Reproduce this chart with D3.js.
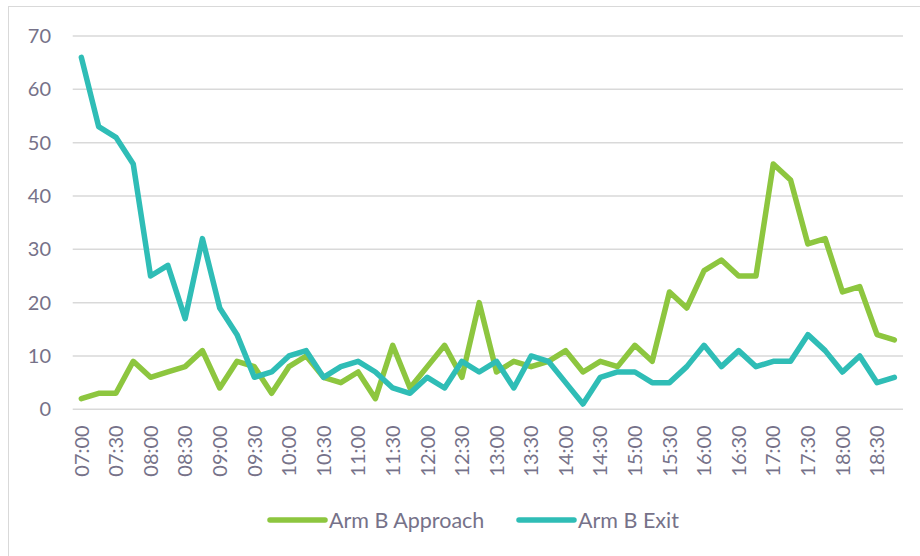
<!DOCTYPE html>
<html>
<head>
<meta charset="utf-8">
<script src="https://cdn.jsdelivr.net/npm/d3@7"></script>
<style>
  html, body { margin: 0; padding: 0; background: #fff; }
  svg { display: block; }
  text { font-family: Lato, 'Open Sans', sans-serif; fill: #767289; }
</style>
</head>
<body>
<svg id="chart"></svg>
<script>
const times = [
  '07:00', '07:15', '07:30', '07:45', '08:00', '08:15', '08:30', '08:45',
  '09:00', '09:15', '09:30', '09:45', '10:00', '10:15', '10:30', '10:45',
  '11:00', '11:15', '11:30', '11:45', '12:00', '12:15', '12:30', '12:45',
  '13:00', '13:15', '13:30', '13:45', '14:00', '14:15', '14:30', '14:45',
  '15:00', '15:15', '15:30', '15:45', '16:00', '16:15', '16:30', '16:45',
  '17:00', '17:15', '17:30', '17:45', '18:00', '18:15', '18:30', '18:45'
]
const approach = [
  2, 3, 3, 9, 6, 7, 8, 11, 4, 9, 8, 3, 8, 10, 6, 5,
  7, 2, 12, 4, 8, 12, 6, 20, 7, 9, 8, 9, 11, 7, 9, 8,
  12, 9, 22, 19, 26, 28, 25, 25, 46, 43, 31, 32, 22, 23, 14, 13
]
const exit = [
  66, 53, 51, 46, 25, 27, 17, 32, 19, 14, 6, 7, 10, 11, 6, 8,
  9, 7, 4, 3, 6, 4, 9, 7, 9, 4, 10, 9, 5, 1, 6, 7,
  7, 5, 5, 8, 12, 8, 11, 8, 9, 9, 14, 11, 7, 10, 5, 6
]
const yTicks = [0, 10, 20, 30, 40, 50, 60, 70]
const seriesNames = ['Arm B Approach', 'Arm B Exit']
const colors = ['#8dc63f', '#2fbdb6']

const width = 920
const height = 556
const plot = { left: 72.7, right: 903, top: 36, bottom: 409.3 }

const svg = d3.select('#chart')
    .attr('width', width)
    .attr('height', height)

// chart area border (only top/left visible in the crop)
svg.append('rect')
    .attr('x', 8.5)
    .attr('y', 6.5)
    .attr('width', 1000)
    .attr('height', 1000)
    .attr('fill', 'none')
    .attr('stroke', '#d9d9d9')
    .attr('stroke-width', 1)

const xScale = d3.scaleBand()
    .domain(times)
    .range([plot.left, plot.right])
    .padding(0)

const yScale = d3.scaleLinear()
    .domain([0, 70])
    .range([plot.bottom, plot.top])

// gridlines
svg.append('g')
    .selectAll('line')
    .data(yTicks)
    .enter()
    .append('line')
    .attr('x1', plot.left)
    .attr('x2', plot.right)
    .attr('y1', d => yScale(d))
    .attr('y2', d => yScale(d))
    .attr('stroke', '#d9d9d9')
    .attr('stroke-width', 1.5)

// y axis labels
const yAxis = svg.append('g')
    .attr('transform', 'translate(' + 51 + ',0)')
    .call(d3.axisLeft(yScale).tickValues(yTicks).tickSize(0).tickPadding(0))
yAxis.select('.domain').remove()
yAxis.selectAll('text')
    .style('font-family', 'Lato, sans-serif')
    .style('font-size', '20px')
    .attr('fill', '#767289')

// x axis labels, every other slot
const xAxis = svg.append('g')
    .attr('transform', 'translate(0,' + plot.bottom + ')')
    .call(d3.axisBottom(xScale)
        .tickValues(times.filter((d, i) => i % 2 === 0))
        .tickSize(0))
xAxis.select('.domain').remove()
xAxis.selectAll('text')
    .style('font-family', 'Lato, sans-serif')
    .style('font-size', '20px')
    .attr('fill', '#767289')
    .attr('transform', 'rotate(-90)')
    .attr('text-anchor', 'end')
    .attr('x', -16)
    .attr('y', 0)
    .attr('dy', '0.36em')

const xc = d => xScale(d) + xScale.bandwidth() / 2

const line = d3.line()
    .x(d => xc(d.t))
    .y(d => yScale(d.v))

const allSeries = [approach, exit]
allSeries.forEach((vals, k) => {
    svg.append('path')
        .datum(vals.map((v, i) => ({ t: times[i], v: v })))
        .attr('d', line)
        .attr('fill', 'none')
        .attr('stroke', colors[k])
        .attr('stroke-width', 5.5)
        .attr('stroke-linejoin', 'round')
        .attr('stroke-linecap', 'round')
})

// legend
const legendX = [270, 519]
const legend = svg.append('g')
seriesNames.forEach((name, k) => {
    legend.append('line')
        .attr('x1', legendX[k])
        .attr('x2', legendX[k] + 55)
        .attr('y1', 520)
        .attr('y2', 520)
        .attr('stroke', colors[k])
        .attr('stroke-width', 5.5)
        .attr('stroke-linecap', 'round')
    legend.append('text')
        .attr('x', legendX[k] + 59)
        .attr('y', 520)
        .attr('dy', '0.36em')
        .style('font-size', '21.5px')
        .text(name)
})
</script>
</body>
</html>
